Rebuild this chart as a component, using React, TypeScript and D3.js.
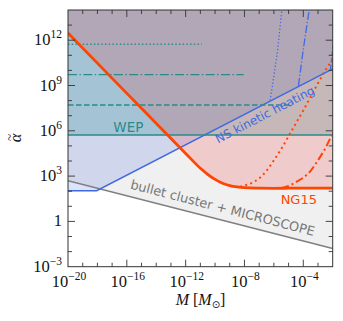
import React from 'react';
import * as d3 from 'd3';

const W = 343;
const H = 321;
const margin = { top: 10, right: 10.3, bottom: 54.3, left: 68 };

// all values are log10 (M / Msun), log10 alpha
const xDomain = [-20, -2];
const yDomain = [-3, 14];
const xMajor = [-20, -16, -12, -8, -4];
const yMajor = [-3, 0, 3, 6, 9, 12];

const bulletLine = [[-20, 2.7], [-2, -1.8]];
const nsLine = [[-20, 2.03], [-18.05, 2.03], [-2, 10.1]];
const nsDotted = [[-6.26, 8.0], [-6.0, 9.6], [-5.75, 11.3], [-5.46, 14.0]];
const nsDashDot = [[-4.33, 8.98], [-3.99, 11.46], [-3.65, 13.67], [-3.59, 14.0]];
const nsDashed = [[-2.15, 10.07], [-1.95, 11.8]];

const wepLevel = 5.72;
// [level, end of line in log M]
const wepDashed = [7.71, -4.9];
const wepDashDot = [9.72, -8.05];
const wepDotted = [11.73, -10.9];

const ng15Thick = [
  [-20, 12.48], [-16, 8.48], [-12, 4.5], [-11, 3.52], [-10.5, 3.12], [-10, 2.78],
  [-9.5, 2.53], [-9, 2.37], [-8.5, 2.28], [-8, 2.23], [-7, 2.2], [-6, 2.19],
  [-5, 2.2], [-4, 2.21], [-3, 2.2], [-2, 2.2],
];
const ng15Dotted = [
  [-8.3, 2.3], [-7.5, 2.55], [-7, 2.85], [-6.5, 3.35], [-6, 4.05], [-5.5, 4.8],
  [-5, 5.65], [-4.5, 6.5], [-4, 7.35], [-3.5, 8.25], [-3, 9.15], [-2.5, 10.0], [-2, 10.75],
];
const ng15DashDot = [
  [-5.5, 2.2], [-5, 2.35], [-4.5, 2.6], [-4, 2.9], [-3.5, 3.35], [-3, 4.05], [-2.5, 4.85], [-2, 5.85],
];

const x = d3.scaleLinear().domain(xDomain).range([margin.left, W - margin.right]);
const y = d3.scaleLinear().domain(yDomain).range([H - margin.bottom, margin.top]);
const top = y(yDomain[1]);

const line = d3.line<number[]>().x(d => x(d[0])).y(d => y(d[1]));
const smooth = d3.line<number[]>().x(d => x(d[0])).y(d => y(d[1])).curve(d3.curveMonotoneX);

const fillAbove = (pts: number[][], gen = line) =>
  `${gen(pts)}L${x(pts[pts.length - 1][0])},${top}L${x(pts[0][0])},${top}Z`;

const TEAL = '#2a8a8a';
const BLUE = '#4169e1';
const ORANGE = '#ff4500';
const GRAY = '#7f7f7f';

function TickLabel({ e, px, py, anchor }: { e: number; px: number; py: number; anchor: string }) {
  if (e === 0) {
    return <text x={px} y={py} textAnchor={anchor} fontSize={16.5}>1</text>;
  }
  const s = e < 0 ? `\u2212${-e}` : `${e}`;
  return (
    <text x={px} y={py} textAnchor={anchor} fontSize={16.5}>
      10<tspan dy={-7} fontSize={11.5}>{s}</tspan>
    </text>
  );
}

export default function App() {
  const x0 = margin.left, x1 = W - margin.right;
  const y0 = H - margin.bottom, y1 = margin.top;
  const xDecades = d3.range(xDomain[0] + 1, xDomain[1]);
  const yDecades = d3.range(yDomain[0] + 1, yDomain[1]);

  return (
    <svg width={W} height={H} style={{ position: 'absolute', left: 0, top: 0 }}
      fontFamily="'Liberation Serif', serif">
      <defs>
        <clipPath id="plot">
          <rect x={x0} y={y1} width={x1 - x0} height={y0 - y1} />
        </clipPath>
      </defs>
      <rect width={W} height={H} fill="#fff" />
      <g clipPath="url(#plot)">
        <path d={fillAbove(bulletLine)} fill="#808080" fillOpacity={0.12} />
        <path d={fillAbove(nsLine)} fill={BLUE} fillOpacity={0.18} />
        <rect x={x0} y={y1} width={x1 - x0} height={y(wepLevel) - y1} fill="#008080" fillOpacity={0.21} />
        <path d={fillAbove(ng15Thick, smooth)} fill="#f02828" fillOpacity={0.18} />

        <path d={line(bulletLine)!} fill="none" stroke={GRAY} strokeWidth={1.5} />
        <path d={line(nsLine)!} fill="none" stroke={BLUE} strokeWidth={1.5} />
        <path d={line(nsDotted)!} fill="none" stroke={BLUE} strokeWidth={1.3} strokeDasharray="1.3 2.1" />
        <path d={line(nsDashDot)!} fill="none" stroke={BLUE} strokeWidth={1.3} strokeDasharray="8 2 1.3 2" />
        <path d={line(nsDashed)!} fill="none" stroke={BLUE} strokeWidth={1.3} strokeDasharray="4.8 2" />

        <line x1={x0} x2={x1} y1={y(wepLevel)} y2={y(wepLevel)} stroke={TEAL} strokeWidth={1.5} />
        <line x1={x0} x2={x(wepDashed[1])} y1={y(wepDashed[0])} y2={y(wepDashed[0])}
          stroke={TEAL} strokeWidth={1.4} strokeDasharray="5.5 2.5" />
        <line x1={x0} x2={x(wepDashDot[1])} y1={y(wepDashDot[0])} y2={y(wepDashDot[0])}
          stroke={TEAL} strokeWidth={1.4} strokeDasharray="9 2.4 1.5 2.4" />
        <line x1={x0} x2={x(wepDotted[1])} y1={y(wepDotted[0])} y2={y(wepDotted[0])}
          stroke={TEAL} strokeWidth={1.4} strokeDasharray="1.4 2.3" />

        <path d={smooth(ng15Dotted)!} fill="none" stroke={ORANGE} strokeWidth={2} strokeDasharray="2 3.3" />
        <path d={smooth(ng15DashDot)!} fill="none" stroke={ORANGE} strokeWidth={2} strokeDasharray="8 3 2 3" />
        <path d={smooth(ng15Thick)!} fill="none" stroke={ORANGE} strokeWidth={2.8} />
      </g>

      <g fontFamily="'DejaVu Sans', sans-serif">
        <text x={128.3} y={131.5} textAnchor="middle" fontSize={13.5} fill={TEAL}>WEP</text>
        <text transform="translate(266.7,118.3) rotate(-27.3)" textAnchor="middle" fontSize={12} fill={BLUE}>
          NS kinetic heating
        </text>
        <text transform="translate(221.5,212.2) rotate(14.5)" textAnchor="middle" fontSize={12.9} fill="#777">
          bullet cluster + MICROSCOPE
        </text>
        <text x={298.8} y={204} textAnchor="middle" fontSize={13} fill={ORANGE}>NG15</text>
      </g>

      <g stroke="#333" strokeWidth={0.9}>
        {xDecades.map(d => {
          const len = xMajor.includes(d) ? 7 : 4;
          return (
            <g key={`x${d}`}>
              <line x1={x(d)} x2={x(d)} y1={y0} y2={y0 - len} />
              <line x1={x(d)} x2={x(d)} y1={y1} y2={y1 + len} />
            </g>
          );
        })}
        {yDecades.map(d => {
          const len = yMajor.includes(d) ? 7 : 4;
          return (
            <g key={`y${d}`}>
              <line x1={x0} x2={x0 + len} y1={y(d)} y2={y(d)} />
              <line x1={x1} x2={x1 - len} y1={y(d)} y2={y(d)} />
            </g>
          );
        })}
        <rect x={x0} y={y1} width={x1 - x0} height={y0 - y1} fill="none" strokeWidth={1} />
      </g>

      <g fill="#111">
        {xMajor.map(e => <TickLabel key={`xl${e}`} e={e} px={x(e) + 1} py={y0 + 20} anchor="middle" />)}
        {yMajor.map(e => <TickLabel key={`yl${e}`} e={e} px={x0 - 6} py={y(e) + 5} anchor="end" />)}
        <text x={200.5} y={304.5} textAnchor="middle" fontSize={16}>
          <tspan fontStyle="italic">M</tspan> [<tspan fontStyle="italic">M</tspan>
          <tspan dy={3} fontSize={10} fontFamily="'DejaVu Sans', sans-serif">⊙</tspan>
          <tspan dy={-3}>]</tspan>
        </text>
        <g transform="translate(16,138) rotate(-90)">
          <text x={0} y={5} textAnchor="middle" fontSize={16.5} fontStyle="italic">α</text>
          <text x={0.5} y={-2.5} textAnchor="middle" fontSize={13}>~</text>
        </g>
      </g>
    </svg>
  );
}
